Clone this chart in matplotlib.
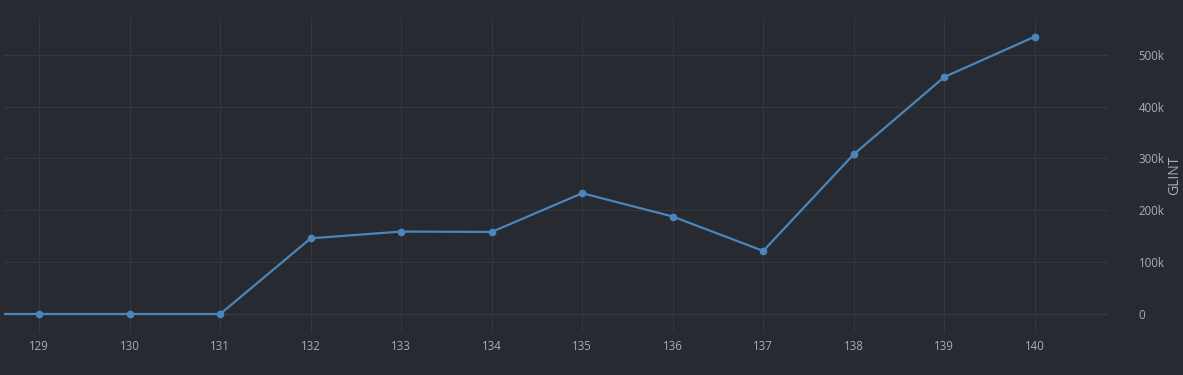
import matplotlib.pyplot as plt
from matplotlib.ticker import FuncFormatter

# data
blocks = [128, 129, 130, 131, 132, 133, 134, 135, 136, 137, 138, 139, 140]
glint = [0, 0, 0, 0, 146000, 159000, 158300, 233000, 188000, 121600, 308000, 457000, 535000]

bg = '#272a30'
grid_c = '#33373e'
text_c = '#aaaeb3'
line_c = '#4a86bd'

plt.rcParams['font.family'] = ['Open Sans', 'DejaVu Sans']

fig = plt.figure(figsize=(11.83, 3.75), dpi=100, facecolor=bg)
ax = fig.add_axes([4 / 1183, 42 / 375, 1104 / 1183, 315 / 375], facecolor=bg)

ax.plot(blocks, glint, color=line_c, linewidth=1.6, marker='o', markersize=4.5,
        clip_on=True, zorder=3)

ax.set_xlim(128.61, 140.81)
ax.set_ylim(-36700, 571000)
ax.set_xticks(blocks[1:])
ax.set_yticks([0, 100000, 200000, 300000, 400000, 500000])
ax.yaxis.set_major_formatter(FuncFormatter(lambda v, p: '0' if v == 0 else f'{int(v / 1000)}k'))

ax.yaxis.tick_right()
ax.yaxis.set_label_position('right')
ax.set_ylabel('GLINT', color=text_c, fontsize=10)
ax.yaxis.set_label_coords(1.054, 0.5)

ax.tick_params(axis='both', length=0, colors=text_c, labelsize=8.3)
ax.tick_params(axis='y', pad=22)
ax.tick_params(axis='x', pad=5)
for lbl in ax.get_yticklabels():
    lbl.set_horizontalalignment('left')

ax.grid(True, color=grid_c, linewidth=0.8)
ax.axhline(0, color='#3a3e45', linewidth=1.0, zorder=1)
for s in ax.spines.values():
    s.set_visible(False)

fig.savefig('out.png', dpi=100, facecolor=bg)
